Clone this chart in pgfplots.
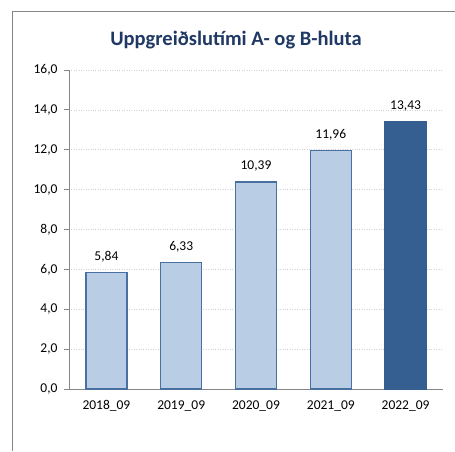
\documentclass[border=0pt]{standalone}
\usepackage{pgfplots}
\pgfplotsset{compat=1.18}
\usepackage{fontspec}
\setmainfont{Carlito}
\definecolor{titleblue}{HTML}{1F3864}
\definecolor{lightbar}{HTML}{B9CDE5}
\definecolor{barline}{HTML}{4A70A3}
\definecolor{darkbar}{HTML}{365F91}
\definecolor{axisgray}{HTML}{868686}
\definecolor{gridgray}{HTML}{D0D0D0}
\begin{document}
\begin{tikzpicture}[x=1pt,y=1pt]
\useasboundingbox (0,0) rectangle (455,451);
\fill[white] (0,0) rectangle (455,451);
\draw[axisgray, line width=1pt] (12,0) -- (12,439) -- (455,439);
\node[font=\bfseries\fontsize{20.5}{24}\selectfont, text=titleblue] at (236,411) {Uppgreiðslutími A- og B-hluta};
\begin{axis}[
  at={(69pt,62pt)}, anchor=south west,
  scale only axis, width=374pt, height=319pt,
  xmin=-0.5, xmax=4.5, ymin=0, ymax=16,
  ybar, bar width=41pt,
  axis x line*=bottom, axis y line*=left,
  axis line style={axisgray, line width=0.8pt},
  xtick={0,1,2,3,4},
  xticklabels={2018\_09,2019\_09,2020\_09,2021\_09,2022\_09},
  minor xtick={-0.5,0.5,1.5,2.5,3.5,4.5},
  xtick style={draw=none},
  minor tick style={axisgray, line width=0.8pt},
  minor tick length=5pt,
  ytick={0,2,...,16},
  ytick style={axisgray, line width=0.8pt},
  major tick length=5pt,
  tick align=outside,
  ymajorgrids,
  grid style={gridgray, dotted, line width=0.6pt},
  yticklabel style={xshift=-3pt, /pgf/number format/.cd, fixed, fixed zerofill, precision=1, use comma},
  /pgf/number format/assume math mode=true,
  tick label style={font=\fontsize{13.5}{16}\selectfont, text=black},
  xticklabel style={yshift=-3pt},
  nodes near coords,
  nodes near coords style={font=\fontsize{13.5}{16}\selectfont, text=black, anchor=base, yshift=12pt, inner sep=0pt, /pgf/number format/.cd, fixed, fixed zerofill, precision=2, use comma},
]
\addplot[bar shift=0pt, fill=lightbar, draw=barline, line width=1.3pt] coordinates {(0,5.84) (1,6.33) (2,10.39) (3,11.96)};
\addplot[bar shift=0pt, fill=darkbar, draw=darkbar, line width=1.3pt] coordinates {(4,13.43)};
\end{axis}
\end{tikzpicture}
\end{document}
